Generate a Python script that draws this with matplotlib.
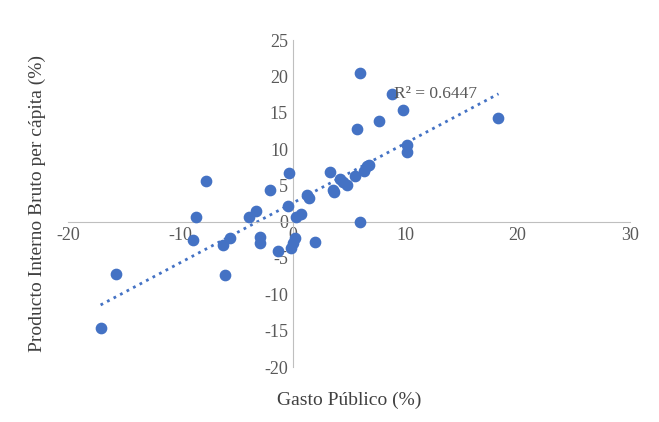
import matplotlib
matplotlib.use("Agg")
import matplotlib.pyplot as plt
import numpy as np

gasto = [-17.1,-15.7,-8.9,-8.6,-7.7,-6.0,-6.2,-5.6,-3.9,-3.3,-2.9,-2.9,-2.0,-1.3,-0.4,-0.3,-0.2,0.0,0.2,0.3,0.7,1.3,1.4,2.0,3.3,3.6,3.7,4.2,4.5,4.8,5.5,5.7,6.0,6.0,6.3,6.6,6.8,7.7,8.8,9.8,10.2,10.2,18.3]
pib = [-14.6,-7.2,-2.5,0.7,5.6,-7.4,-3.2,-2.2,0.7,1.5,-2.1,-3.0,4.4,-4.0,2.1,6.7,-3.6,-3.0,-2.3,0.7,1.1,3.7,3.3,-2.8,6.9,4.4,4.1,5.9,5.5,5.0,6.3,12.7,0.0,20.4,7.0,7.6,7.8,13.8,17.6,15.4,10.6,9.6,14.2]

plt.rcParams['font.family'] = ['Liberation Serif', 'DejaVu Serif']
plt.rcParams['axes.unicode_minus'] = False
fig = plt.figure(figsize=(6.59, 4.22), dpi=100)
ax = fig.add_axes([68/659, 55/422, 562/659, 327/422])
blue = '#4472C4'
ax.scatter(gasto, pib, s=55, color=blue, zorder=3)
m, b = np.polyfit(gasto, pib, 1)
xs = np.array([min(gasto), max(gasto)])
ax.plot(xs, m*xs+b, ':', color=blue, lw=2)
ax.text(12.7, 17.6, 'R² = 0.6447', color='#595959', fontsize=12.5, ha='center', va='center')
ax.set_xlim(-20, 30); ax.set_ylim(-20, 25)
ax.set_xticks(range(-20, 31, 10)); ax.set_yticks(range(-20, 26, 5))
for s in ['top', 'right']:
    ax.spines[s].set_visible(False)
for s in ['left', 'bottom']:
    ax.spines[s].set_position('zero'); ax.spines[s].set_color('#BFBFBF')
ax.tick_params(length=0, labelsize=13, labelcolor='#595959')
ax.set_xlabel('Gasto Público (%)', fontsize=14, color='#404040')
ax.set_ylabel('Producto Interno Bruto per cápita (%)', fontsize=14, color='#404040')
ax.xaxis.set_label_coords(0.5, -0.075)
ax.yaxis.set_label_coords(-0.04, 0.5)
fig.savefig('out.png', dpi=100)
